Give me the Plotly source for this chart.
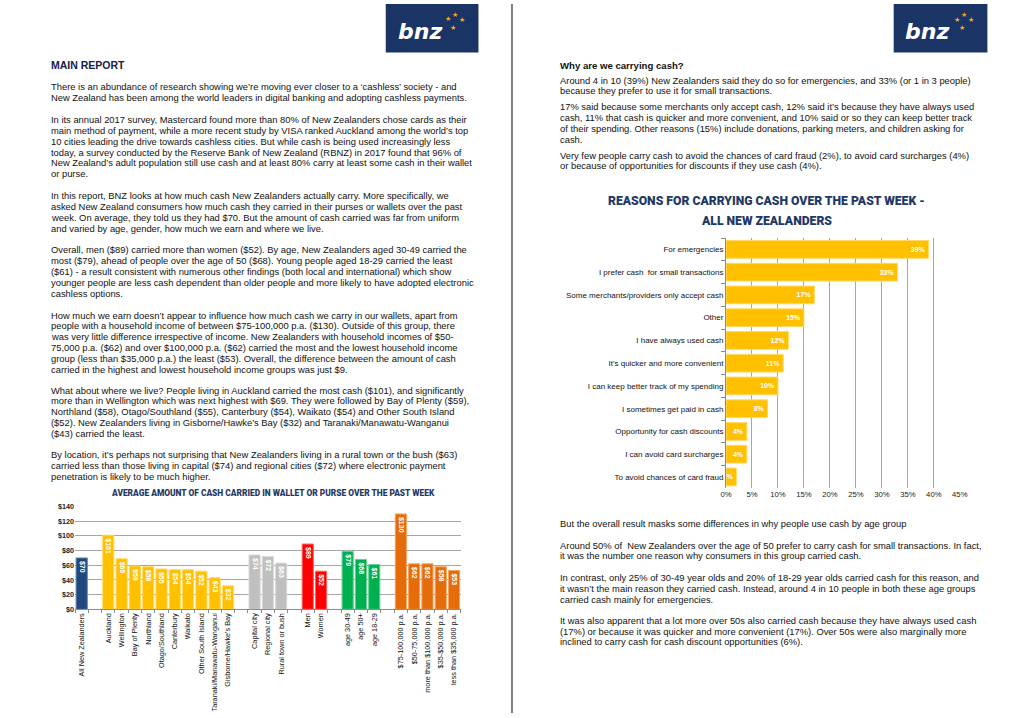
import plotly.graph_objects as go

W, H = 1024, 718


def px(x):
    return x / W


def py(y):
    return 1 - y / H


# ---------------- Chart 1 data: average cash carried ----------------
overall_cat = ["All New Zealanders"]
overall_val = [70]
region_cat = ["Auckland", "Wellington", "Bay of Plenty", "Northland", "Otago/Southland",
              "Canterbury", "Waikato", "Other South Island", "Taranaki/Manawatu-Wanganui",
              "Gisborne/Hawke's Bay"]
region_val = [101, 69, 59, 58, 55, 54, 54, 52, 43, 32]
location_cat = ["Capital city", "Regional city", "Rural town or bush"]
location_val = [74, 72, 63]
gender_cat = ["Men", "Women"]
gender_val = [89, 52]
age_cat = ["age 30-49", "age 50+", "age 18-29"]
age_val = [79, 68, 61]
income_cat = ["$75-100,000 p.a.", "$50-75,000 p.a.", "more than $100,000 p.a.",
              "$35-$50,000 p.a.", "less than $35,000 p.a."]
income_val = [130, 62, 62, 58, 53]
y_ticks = [0, 20, 40, 60, 80, 100, 120, 140]

# ---------------- Chart 2 data: reasons for carrying cash ----------------
reasons = ["For emergencies", "I prefer cash  for small transactions",
           "Some merchants/providers only accept cash", "Other", "I have always used cash",
           "It's quicker and more convenient", "I can keep better track of my spending",
           "I sometimes get paid in cash", "Opportunity for cash discounts",
           "I can avoid card surcharges", "To avoid chances of card fraud"]
reason_pct = [39, 33, 17, 15, 12, 11, 10, 8, 4, 4, 2]

# ---------------- Page text ----------------
left_heading = "MAIN REPORT"
left_paragraphs = [
    ["There is an abundance of research showing we’re moving ever closer to a ‘cashless’ society - and",
     "New Zealand has been among the world leaders in digital banking and adopting cashless payments."],
    ["In its annual 2017 survey, Mastercard found more than 80% of New Zealanders chose cards as their",
     "main method of payment, while a more recent study by VISA ranked Auckland among the world’s top",
     "10 cities leading the drive towards cashless cities. But while cash is being used increasingly less",
     "today, a survey conducted by the Reserve Bank of New Zealand (RBNZ) in 2017 found that 96% of",
     "New Zealand’s adult population still use cash and at least 80% carry at least some cash in their wallet",
     "or purse."],
    ["In this report, BNZ looks at how much cash New Zealanders actually carry. More specifically, we",
     "asked New Zealand consumers how much cash they carried in their purses or wallets over the past",
     "week. On average, they told us they had $70. But the amount of cash carried was far from uniform",
     "and varied by age, gender, how much we earn and where we live."],
    ["Overall, men ($89) carried more than women ($52). By age, New Zealanders aged 30-49 carried the",
     "most ($79), ahead of people over the age of 50 ($68). Young people aged 18-29 carried the least",
     "($61) - a result consistent with numerous other findings (both local and international) which show",
     "younger people are less cash dependent than older people and more likely to have adopted electronic",
     "cashless options."],
    ["How much we earn doesn’t appear to influence how much cash we carry in our wallets, apart from",
     "people with a household income of between $75-100,000 p.a. ($130). Outside of this group, there",
     "was very little difference irrespective of income. New Zealanders with household incomes of $50-",
     "75,000 p.a. ($62) and over $100,000 p.a. ($62) carried the most and the lowest household income",
     "group (less than $35,000 p.a.) the least ($53). Overall, the difference between the amount of cash",
     "carried in the highest and lowest household income groups was just $9."],
    ["What about where we live? People living in Auckland carried the most cash ($101), and significantly",
     "more than in Wellington which was next highest with $69. They were followed by Bay of Plenty ($59),",
     "Northland ($58), Otago/Southland ($55), Canterbury ($54), Waikato ($54) and Other South Island",
     "($52). New Zealanders living in Gisborne/Hawke’s Bay ($32) and Taranaki/Manawatu-Wanganui",
     "($43) carried the least."],
    ["By location, it’s perhaps not surprising that New Zealanders living in a rural town or the bush ($63)",
     "carried less than those living in capital ($74) and regional cities ($72) where electronic payment",
     "penetration is likely to be much higher."],
]
left_para_y = [84, 117, 194, 249, 315, 391, 456]

right_heading = "Why are we carrying cash?"
right_paragraphs = [
    ["Around 4 in 10 (39%) New Zealanders said they do so for emergencies, and 33% (or 1 in 3 people)",
     "because they prefer to use it for small transactions."],
    ["17% said because some merchants only accept cash, 12% said it’s because they have always used",
     "cash, 11% that cash is quicker and more convenient, and 10% said or so they can keep better track",
     "of their spending. Other reasons (15%) include donations, parking meters, and children asking for",
     "cash."],
    ["Very few people carry cash to avoid the chances of card fraud (2%), to avoid card surcharges (4%)",
     "or because of opportunities for discounts if they use cash (4%)."],
    ["But the overall result masks some differences in why people use cash by age group"],
    ["Around 50% of  New Zealanders over the age of 50 prefer to carry cash for small transactions. In fact,",
     "it was the number one reason why consumers in this group carried cash."],
    ["In contrast, only 25% of 30-49 year olds and 20% of 18-29 year olds carried cash for this reason, and",
     "it wasn’t the main reason they carried cash. Instead, around 4 in 10 people in both these age groups",
     "carried cash mainly for emergencies."],
    ["It was also apparent that a lot more over 50s also carried cash because they have always used cash",
     "(17%) or because it was quicker and more convenient (17%). Over 50s were also marginally more",
     "inclined to carry cash for cash discount opportunities (6%)."],
]
right_para_y = [77, 104, 153, 526, 548, 581, 624]

chart1_title = "AVERAGE AMOUNT OF CASH CARRIED IN WALLET OR PURSE OVER THE PAST WEEK"
chart2_title_lines = ["REASONS FOR CARRYING CASH OVER THE PAST WEEK -", "ALL NEW ZEALANDERS"]

BODY_FONT = "Liberation Sans, Arial, sans-serif"
TITLE_FONT = "Roboto, Liberation Sans, sans-serif"
NAVY = "#1F3864"
BODY_SIZE = 9.4

spacers = [" ", "  ", "   ", "    ", "     "]
cat_order = (overall_cat + [spacers[0]] + region_cat + [spacers[1]] + location_cat +
             [spacers[2]] + gender_cat + [spacers[3]] + age_cat + [spacers[4]] + income_cat)

fig = go.Figure()

groups = [
    (overall_cat, overall_val, "#1F497D", "#5B7FB0"),
    (region_cat, region_val, "#FFC000", "#FFD966"),
    (location_cat, location_val, "#BFBFBF", "#D9D9D9"),
    (gender_cat, gender_val, "#FF0000", "#FF6666"),
    (age_cat, age_val, "#00B050", "#66D096"),
    (income_cat, income_val, "#E46C0A", "#F4A460"),
]
for cats, vals, col, edge in groups:
    fig.add_trace(go.Bar(
        x=cats, y=vals, width=0.84,
        marker=dict(color=col, line=dict(color=edge, width=1)),
        text=[f"${v}" for v in vals], textposition="inside", insidetextanchor="end",
        textangle=90, textfont=dict(color="white", size=7, family=BODY_FONT, weight="bold"),
        xaxis="x", yaxis="y", showlegend=False, hoverinfo="x+y",
    ))

fig.add_trace(go.Bar(
    y=reasons, x=reason_pct, orientation="h", width=0.78,
    marker=dict(color="#FFC000", line=dict(color="#FFD966", width=1)),
    text=[f"{v}%" for v in reason_pct], textposition="inside", insidetextanchor="end",
    textangle=0, textfont=dict(color="white", size=7, family=BODY_FONT, weight="bold"),
    xaxis="x2", yaxis="y2", showlegend=False, hoverinfo="x+y",
))

fig.update_layout(
    width=W, height=H, margin=dict(l=0, r=0, t=0, b=0),
    paper_bgcolor="white", plot_bgcolor="white",
    font=dict(family=BODY_FONT, color="#111111"),
    uniformtext=dict(minsize=7, mode="show"),
    xaxis=dict(domain=[px(70), px(461)], anchor="y", type="category",
               categoryorder="array", categoryarray=cat_order,
               tickangle=-90, tickfont=dict(size=7.3, color="#111111"),
               showline=True, linecolor="#8C8C8C", linewidth=1,
               ticks="outside", tickson="boundaries", ticklen=3, tickcolor="#8C8C8C",
               showgrid=False, fixedrange=True),
    yaxis=dict(domain=[py(613), py(509)], anchor="x", range=[0, 140],
               tickvals=y_ticks, ticktext=[f"${v}" for v in y_ticks],
               tickfont=dict(size=7.2, color="#222222", weight="bold"),
               showgrid=True, gridcolor="#A6A6A6", gridwidth=1.3,
               zeroline=False, showline=False, ticks="", fixedrange=True),
    xaxis2=dict(domain=[px(730), px(967)], anchor="y2", range=[0, 45], dtick=5,
                ticksuffix="%", tickfont=dict(size=7.7, color="#222222"),
                showgrid=True, gridcolor="#A6A6A6", gridwidth=1,
                zeroline=False, showline=False, ticks="", fixedrange=True),
    yaxis2=dict(domain=[py(490.5), py(237)], anchor="x2", autorange="reversed",
                type="category", tickfont=dict(size=8, color="#111111"),
                showline=True, linecolor="#8C8C8C", linewidth=1,
                ticks="outside", tickson="boundaries", ticklen=4, tickcolor="#8C8C8C",
                showgrid=False, fixedrange=True),
)

shapes = [
    dict(type="line", xref="paper", yref="paper", x0=px(513), x1=px(513), y0=0, y1=1,
         line=dict(color="#555555", width=1.5)),
    dict(type="rect", xref="paper", yref="paper", x0=px(385), x1=px(479), y0=py(49), y1=py(0),
         fillcolor="#1B3466", line=dict(width=0)),
    dict(type="rect", xref="paper", yref="paper", x0=px(900), x1=px(995), y0=py(49), y1=py(0),
         fillcolor="#1B3466", line=dict(width=0)),
]

annotations = []


def add_text(x, y, text, size=9, color="#111111", bold=False, family=BODY_FONT,
             xanchor="left", italic=False, weight=None):
    annotations.append(dict(
        x=px(x), y=py(y), xref="paper", yref="paper", text=text, showarrow=False,
        xanchor=xanchor, yanchor="middle", borderpad=0,
        font=dict(size=size, color=color, family=family,
                  weight=weight if weight else ("bold" if bold else "normal"),
                  style="italic" if italic else "normal"),
    ))


# logos
for bx, stars in [(420, [(448, 15), (455, 11), (462, 16), (453, 24)]),
                  (934, [(964, 16), (971, 11), (978, 16), (969, 24)])]:
    add_text(bx, 28, "bnz", size=22, color="white", bold=True, italic=True,
             family="DejaVu Sans, Arial, sans-serif", xanchor="center")
    for sx, sy in stars:
        add_text(sx, sy, "★", size=7, color="#F6A81C", xanchor="center",
                 family="DejaVu Sans, sans-serif")

# headings
add_text(45, 62, left_heading, size=10.5, color="#15204A", bold=True)
add_text(561, 62, right_heading, size=9.6, color="#111111", bold=True)

# paragraphs
LINE = 11
for y0, lines in zip(left_para_y, left_paragraphs):
    for i, line in enumerate(lines):
        add_text(45, y0 + i * LINE, line, size=BODY_SIZE)
for y0, lines in zip(right_para_y, right_paragraphs):
    for i, line in enumerate(lines):
        add_text(561, y0 + i * LINE, line, size=BODY_SIZE)

# chart titles
add_text(271, 495, chart1_title, size=8.4, color=NAVY, family=TITLE_FONT,
         xanchor="center", weight=900)
for (ty, tline) in zip([199, 220], chart2_title_lines):
    add_text(771, ty, tline, size=12.2, color=NAVY, family=TITLE_FONT,
             xanchor="center", weight=900)

fig.update_layout(shapes=shapes, annotations=annotations)

fig.write_html("out.html",
               config={"displayModeBar": False},
               post_script="document.body.style.margin='0px';document.body.style.overflow='hidden';")
